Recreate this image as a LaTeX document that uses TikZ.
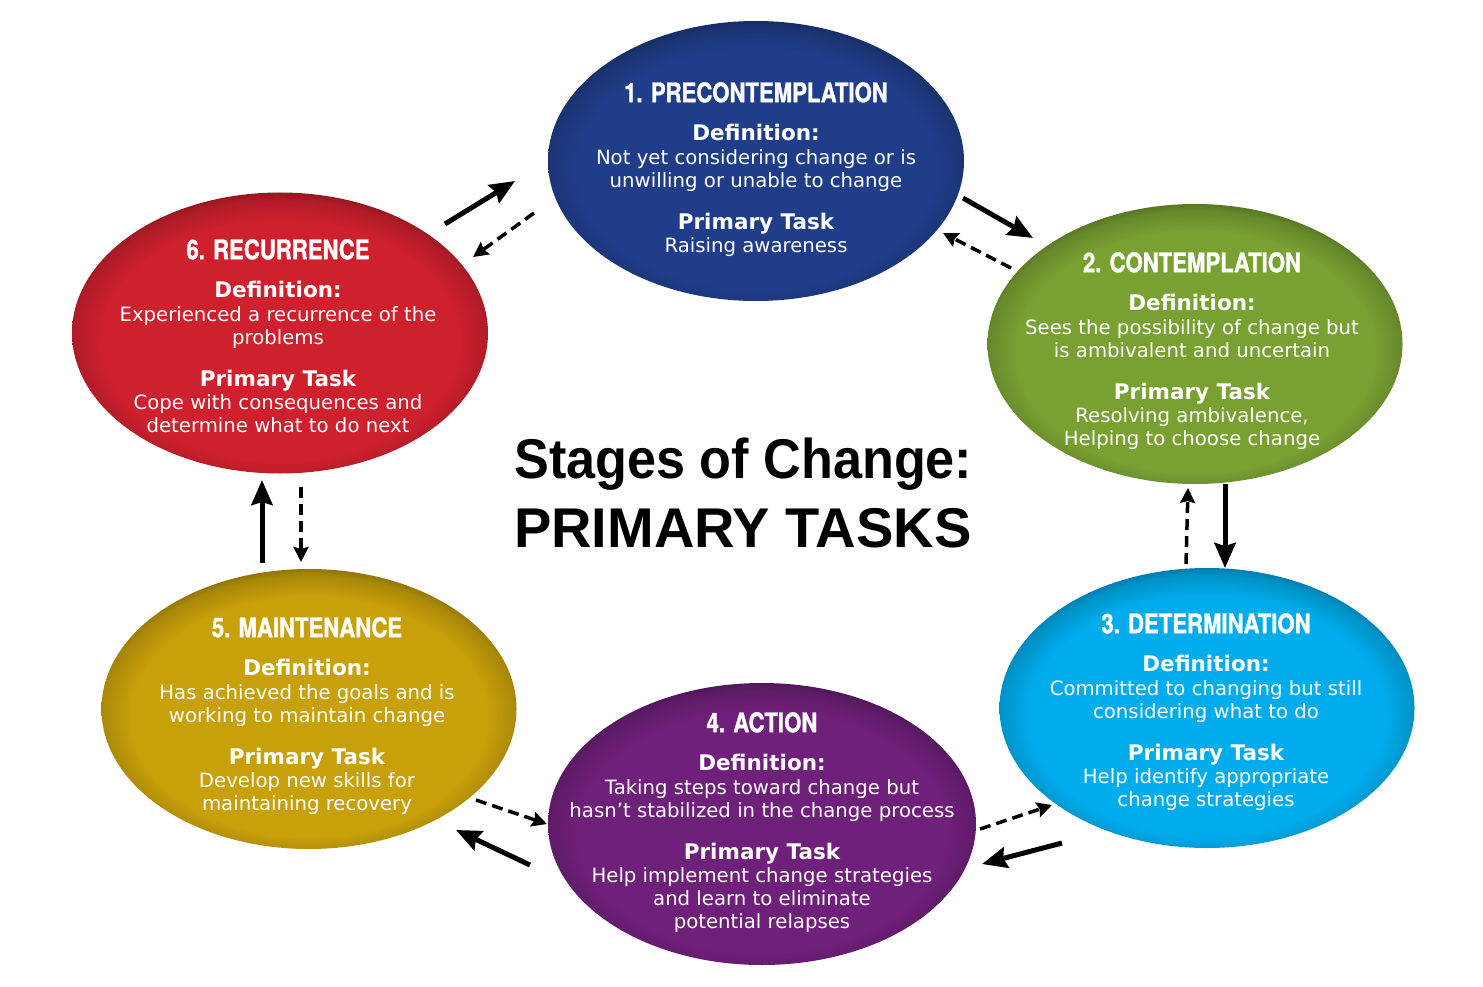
\documentclass[tikz,border=0pt]{standalone}
\usepackage{fontspec}
\usepackage{graphicx}
\setmainfont{DejaVu Sans}
\newfontfamily\titlefont[FakeStretch=0.82,FakeBold=1.3]{TeX Gyre Heros}
\newfontfamily\bigfont{Liberation Sans}
\usetikzlibrary{shapes.geometric,arrows.meta}

\definecolor{stagecol}{RGB}{0,0,0}
\definecolor{sblue}{RGB}{31,61,137}
\definecolor{sgreen}{RGB}{121,161,50}
\definecolor{scyan}{RGB}{0,172,236}
\definecolor{spurple}{RGB}{111,32,122}
\definecolor{sgold}{RGB}{200,160,10}
\definecolor{sred}{RGB}{207,32,46}

\pgfdeclareradialshading[stagecol]{vignette}{\pgfpoint{0bp}{-2.5bp}}{%
  color(0bp)=(stagecol); color(21.5bp)=(stagecol);
  color(25bp)=(stagecol!85!black); color(28bp)=(stagecol!55!black);
  color(50bp)=(stagecol!55!black)}

\newcommand{\stitle}[1]{{\titlefont\bfseries\fontsize{27}{23}\selectfont #1}}
\newcommand{\shead}[1]{{\bfseries\fontsize{21.5}{23}\selectfont #1}}

\tikzset{
  stagefill/.code={\colorlet{stagecol}{#1}},
  stagebox/.style={ellipse, draw=none, inner sep=0pt, shading=vignette},
  stagetext/.style={anchor=north, align=center, text=white, inner sep=0pt,
    font=\fontsize{19.7}{23}\selectfont},
  solidarrow/.style={line width=5pt, -{Stealth[length=25pt,width=21pt,inset=3pt]}},
  dasharrow/.style={line width=3.5pt, dash pattern=on 11pt off 6pt,
    -{Stealth[length=15pt,width=15pt,inset=2pt]}},
  bigtitle/.style={anchor=base west, inner sep=0pt,
    font=\bigfont\bfseries\fontsize{56}{68}\selectfont}
}

\begin{document}
\begin{tikzpicture}[x=1pt,y=-1pt]
\useasboundingbox (0,0) rectangle (1483,987);
\fill[white] (0,0) rectangle (1483,987);

% ellipses
\node[stagebox, stagefill=sblue,   minimum width=416pt, minimum height=280pt] (e1) at (756,161) {};
\node[stagebox, stagefill=sgreen,  minimum width=415pt, minimum height=280pt] (e2) at (1195,344) {};
\node[stagebox, stagefill=scyan,   minimum width=415pt, minimum height=280pt] (e3) at (1207,708) {};
\node[stagebox, stagefill=spurple, minimum width=428pt, minimum height=282pt] (e4) at (762,824) {};
\node[stagebox, stagefill=sgold,   minimum width=415pt, minimum height=280pt] (e5) at (309,709) {};
\node[stagebox, stagefill=sred,    minimum width=416pt, minimum height=281pt] (e6) at (280,333) {};

% texts
\node[stagetext] (t1) at (756,82) {\stitle{1. PRECONTEMPLATION}\\[15pt]
  \shead{Definition:}\\[1pt]
  Not yet considering change or is\\
  unwilling or unable to change\\[19pt]
  \shead{Primary Task}\\
  Raising awareness};
\node[stagetext] (t2) at (1192,252) {\stitle{2. CONTEMPLATION}\\[15pt]
  \shead{Definition:}\\[1pt]
  Sees the possibility of change but\\
  is ambivalent and uncertain\\[19pt]
  \shead{Primary Task}\\
  Resolving ambivalence,\\
  Helping to choose change};
\node[stagetext] (t3) at (1206,613) {\stitle{3. DETERMINATION}\\[15pt]
  \shead{Definition:}\\[1pt]
  Committed to changing but still\\
  considering what to do\\[19pt]
  \shead{Primary Task}\\
  Help identify appropriate\\
  change strategies};
\node[stagetext] (t4) at (762,712) {\stitle{4. ACTION}\\[15pt]
  \shead{Definition:}\\[1pt]
  Taking steps toward change but\\
  hasn’t stabilized in the change process\\[19pt]
  \shead{Primary Task}\\
  Help implement change strategies\\
  and learn to eliminate\\
  potential relapses};
\node[stagetext] (t5) at (307,617) {\stitle{5. MAINTENANCE}\\[15pt]
  \shead{Definition:}\\[1pt]
  Has achieved the goals and is\\
  working to maintain change\\[19pt]
  \shead{Primary Task}\\
  Develop new skills for\\
  maintaining recovery};
\node[stagetext] (t6) at (278,239) {\stitle{6. RECURRENCE}\\[15pt]
  \shead{Definition:}\\[1pt]
  Experienced a recurrence of the\\
  problems\\[19pt]
  \shead{Primary Task}\\
  Cope with consequences and\\
  determine what to do next};

% central title
\node[bigtitle] (c1) at (514,478) {\scalebox{0.932}[1]{Stages of Change:}};
\node[bigtitle] (c2) at (514,547) {PRIMARY TASKS};

% arrow end points
\coordinate (a61s) at (445,224); \coordinate (a61e) at (515,181);
\coordinate (a16s) at (534,213); \coordinate (a16e) at (473,257);
\coordinate (a12s) at (963,198); \coordinate (a12e) at (1033,238);
\coordinate (a21s) at (1011,268); \coordinate (a21e) at (943,233);
\coordinate (a23s) at (1225,484); \coordinate (a23e) at (1225,568);
\coordinate (a32s) at (1186,564); \coordinate (a32e) at (1188,488);
\coordinate (a34s) at (1062,843); \coordinate (a34e) at (982,864);
\coordinate (a43s) at (980,829); \coordinate (a43e) at (1052,805);
\coordinate (a45s) at (530,865); \coordinate (a45e) at (456,830);
\coordinate (a54s) at (476,800); \coordinate (a54e) at (547,824);
\coordinate (a56s) at (262,563); \coordinate (a56e) at (262,480);
\coordinate (a65s) at (301,487); \coordinate (a65e) at (301,562);

\draw[solidarrow] (a61s) -- (a61e);
\draw[dasharrow]  (a16s) -- (a16e);
\draw[solidarrow] (a12s) -- (a12e);
\draw[dasharrow]  (a21s) -- (a21e);
\draw[solidarrow] (a23s) -- (a23e);
\draw[dasharrow]  (a32s) -- (a32e);
\draw[solidarrow] (a34s) -- (a34e);
\draw[dasharrow]  (a43s) -- (a43e);
\draw[solidarrow] (a45s) -- (a45e);
\draw[dasharrow]  (a54s) -- (a54e);
\draw[solidarrow] (a56s) -- (a56e);
\draw[dasharrow]  (a65s) -- (a65e);
\end{tikzpicture}
\end{document}
